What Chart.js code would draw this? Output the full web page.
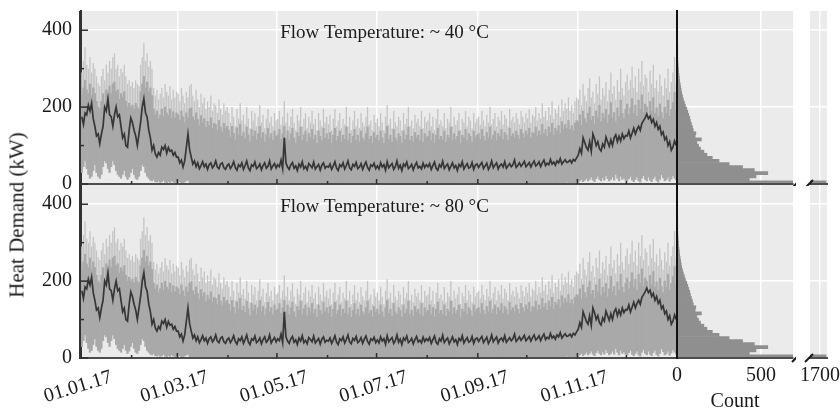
<!DOCTYPE html>
<html>
<head>
<meta charset="utf-8">
<script src="https://cdn.jsdelivr.net/npm/chart.js@4.4.0/dist/chart.umd.min.js"></script>
<style>
  body { margin: 0; background: #fff; }
  #wrap { position: relative; width: 840px; height: 411px; font-family: "Liberation Serif", serif; }
  canvas { position: absolute; }
  .lbl { position: absolute; font-size: 20px; color: #1a1a1a; white-space: nowrap; transform: translate(-50%, -50%); }
</style>
</head>
<body>
<div id="wrap">
  <canvas id="tsTop" width="677" height="198" style="left:0;top:0"></canvas>
  <canvas id="tsBot" width="677" height="226" style="left:0;top:185px"></canvas>
  <canvas id="hTop" width="126" height="186" style="left:670px;top:0"></canvas>
  <canvas id="hBot" width="126" height="226" style="left:670px;top:185px"></canvas>
  <canvas id="bTop" width="50" height="186" style="left:790px;top:0"></canvas>
  <canvas id="bBot" width="50" height="226" style="left:790px;top:185px"></canvas>
  <div class="lbl" style="left:17px;top:215px;font-size:21px;transform:translate(-50%,-50%) rotate(-90deg)">Heat Demand (kW)</div>
  <div class="lbl" style="left:735px;top:400px">Count</div>
</div>
<script>
// axis stuff
const monthStarts = [0, 31, 59, 90, 120, 151, 181, 212, 243, 273, 304, 334, 365];
const dateTicks = [0, 59, 120, 181, 243, 304];
const dateLabels = ['01.01.17', '01.03.17', '01.05.17', '01.07.17', '01.09.17', '01.11.17'];
const demandTicks = [0, 200, 400];
const demandMinor = [100, 300];
const panelTitles = ['Flow Temperature: ~ 40 °C', 'Flow Temperature: ~ 80 °C'];
const countTicks = [0, 500];
const countTicksBreak = [1700];

// histogram of hourly demand, 8 kW bins
const binWidth = 8;
const histCounts = [1735, 430, 470, 540, 460, 390, 310, 250, 210, 178, 160, 140, 128, 118, 145, 108,
  112, 97, 92, 86, 80, 76, 70, 64, 58, 50, 44, 38, 33, 28, 25, 22, 19, 16, 14, 12, 10, 9, 7, 6, 5, 4, 3, 2, 2, 1];

// daily peak (kW), one line per month
const dayMax = [
  290, 320, 356, 310, 300, 330, 290, 315, 300, 280, 262, 255, 280, 300, 270, 310, 290, 320, 300, 330, 340, 300, 310, 280, 300, 290, 310, 280, 260, 270, 255,
  265, 250, 270, 260, 255, 310, 330, 366, 320, 340, 305, 320, 300, 250, 230, 245, 220, 235, 250, 225, 260, 240, 230, 255, 220, 245, 225, 240,
  235, 215, 250, 230, 210, 240, 225, 255, 260, 230, 215, 245, 220, 200, 235, 210, 225, 195, 215, 200, 230, 190, 210, 205, 185, 220, 195, 180, 210, 190, 200,
  185, 160, 200, 175, 150, 195, 170, 210, 165, 180, 155, 200, 170, 145, 190, 165, 185, 150, 175, 205, 160, 180, 145, 170, 195, 160, 175, 150, 185, 165,
  170, 190, 155, 175, 215, 160, 185, 150, 175, 195, 160, 140, 180, 165, 200, 150, 170, 185, 145, 175, 160, 190, 155, 170, 140, 185, 165, 150, 195, 160, 175,
  155, 180, 140, 170, 195, 150, 165, 185, 145, 170, 155, 200, 150, 175, 140, 165, 190, 150, 170, 145, 185, 160, 150, 175, 200, 155, 165, 140, 180, 160,
  170, 150, 185, 160, 140, 175, 205, 155, 170, 145, 190, 160, 150, 175, 165, 140, 185, 155, 170, 200, 150, 165, 145, 180, 160, 170, 150, 190, 145, 175, 160,
  165, 185, 150, 175, 140, 170, 195, 155, 165, 150, 185, 145, 170, 160, 200, 150, 175, 155, 165, 185, 140, 170, 160, 190, 150, 175, 165, 145, 185, 160, 170,
  175, 155, 190, 165, 150, 180, 160, 200, 155, 170, 185, 150, 175, 165, 190, 155, 180, 170, 150, 195, 165, 175, 160, 185, 170, 155, 190, 175, 160, 185,
  170, 195, 160, 180, 175, 200, 165, 185, 170, 210, 175, 190, 165, 200, 180, 215, 170, 195, 185, 205, 175, 220, 190, 210, 195, 225, 190, 205, 185, 215, 225,
  220, 245, 205, 260, 230, 215, 250, 275, 225, 240, 210, 260, 235, 280, 220, 250, 230, 265, 215, 245, 290, 235, 255, 220, 270, 240, 300, 250, 230, 265,
  285, 245, 270, 305, 250, 280, 240, 300, 265, 320, 255, 285, 275, 240, 295, 260, 310, 250, 270, 240, 285, 255, 230, 275, 250, 300, 240, 265, 290, 330, 260
];

// upper edge of the dense part of each day (kW)
const dayHigh = [
  230, 250, 270, 245, 235, 260, 230, 250, 235, 215, 200, 195, 215, 235, 210, 245, 230, 255, 235, 260, 265, 240, 245, 220, 235, 225, 240, 215, 200, 210, 200,
  205, 195, 210, 200, 195, 240, 260, 280, 250, 265, 240, 250, 230, 195, 180, 190, 170, 180, 195, 175, 200, 185, 178, 195, 170, 188, 172, 185,
  180, 165, 190, 175, 160, 185, 172, 195, 198, 175, 165, 185, 168, 152, 178, 160, 170, 148, 163, 152, 172, 145, 158, 155, 140, 165, 148, 136, 158, 144, 150,
  140, 122, 150, 132, 115, 146, 128, 155, 124, 135, 118, 148, 128, 110, 142, 124, 138, 114, 131, 150, 120, 134, 110, 128, 145, 120, 131, 113, 138, 124,
  128, 142, 116, 131, 150, 120, 138, 113, 131, 145, 120, 106, 134, 124, 148, 113, 128, 138, 110, 131, 120, 142, 116, 127, 106, 138, 124, 113, 145, 120, 131,
  116, 134, 106, 127, 145, 113, 124, 138, 109, 127, 116, 148, 113, 131, 106, 124, 142, 113, 127, 109, 138, 120, 113, 131, 148, 116, 124, 106, 134, 120,
  127, 113, 138, 120, 106, 131, 150, 116, 127, 109, 142, 120, 113, 131, 124, 106, 138, 116, 127, 148, 113, 124, 109, 134, 120, 127, 113, 142, 109, 131, 120,
  124, 138, 113, 131, 106, 127, 145, 116, 124, 113, 138, 109, 127, 120, 148, 113, 131, 116, 124, 138, 106, 127, 120, 142, 113, 131, 124, 109, 138, 120, 127,
  131, 116, 142, 124, 113, 134, 120, 148, 116, 127, 138, 113, 131, 124, 142, 116, 134, 127, 113, 145, 124, 131, 120, 138, 127, 116, 142, 131, 120, 138,
  127, 145, 120, 134, 131, 148, 124, 138, 127, 155, 131, 142, 124, 148, 134, 158, 127, 145, 138, 152, 131, 162, 142, 155, 145, 165, 142, 152, 138, 158, 165,
  162, 180, 152, 190, 170, 158, 184, 200, 166, 176, 155, 190, 172, 205, 162, 184, 170, 194, 158, 180, 212, 172, 186, 162, 198, 176, 218, 184, 170, 194,
  208, 180, 198, 222, 184, 205, 176, 218, 194, 232, 186, 208, 200, 176, 215, 190, 225, 184, 198, 176, 208, 186, 170, 200, 184, 218, 176, 194, 212, 238, 190
];

// daily low (kW)
const dayMin = [
  30, 45, 60, 40, 25, 15, 20, 35, 50, 30, 20, 15, 25, 45, 60, 55, 40, 30, 45, 60, 50, 35, 25, 20, 15, 25, 35, 20, 12, 18, 30,
  40, 25, 15, 12, 20, 35, 50, 45, 30, 20, 15, 10, 8, 12, 6, 5, 8, 4, 6, 10, 5, 3, 6, 4, 8, 5, 3, 5,
  4, 6, 2, 3, 5, 8, 10, 4, 2, 3, 1, 4, 2, 0, 3, 2, 1, 4, 0, 2, 3, 1, 0, 2, 4, 1, 0, 3, 2, 0, 1,
  1, 0, 2, 0, 1, 0, 0, 2, 1, 0, 1, 0, 2, 0, 0, 1, 0, 1, 0, 2, 0, 1, 0, 0, 1, 2, 0, 1, 0, 0,
  0, 1, 0, 2, 0, 0, 1, 0, 1, 0, 0, 2, 0, 1, 0, 0, 1, 0, 0, 2, 1, 0, 0, 1, 0, 2, 0, 0, 1, 0, 1,
  0, 0, 1, 0, 2, 0, 1, 0, 0, 1, 0, 0, 2, 0, 1, 0, 0, 1, 0, 0, 1, 0, 2, 0, 0, 1, 0, 0, 1, 0,
  1, 0, 0, 2, 0, 1, 0, 0, 1, 0, 2, 0, 0, 1, 0, 0, 1, 0, 2, 0, 0, 1, 0, 0, 1, 0, 2, 0, 1, 0, 0,
  0, 1, 0, 0, 2, 0, 1, 0, 0, 1, 0, 0, 2, 0, 1, 0, 0, 1, 0, 0, 2, 0, 1, 0, 0, 1, 0, 2, 0, 0, 1,
  0, 2, 0, 1, 0, 0, 1, 0, 2, 0, 0, 1, 0, 1, 0, 2, 0, 0, 1, 0, 0, 2, 0, 1, 0, 0, 1, 0, 2, 0,
  1, 0, 2, 0, 1, 3, 0, 2, 1, 0, 3, 1, 0, 2, 4, 1, 0, 3, 2, 1, 4, 2, 0, 3, 5, 2, 1, 4, 3, 2, 5,
  4, 8, 12, 6, 10, 15, 8, 12, 18, 10, 6, 14, 20, 12, 8, 16, 10, 22, 14, 8, 12, 18, 10, 25, 15, 8, 20, 12, 16, 10,
  8, 14, 20, 10, 6, 12, 18, 8, 5, 15, 22, 12, 8, 18, 10, 6, 14, 20, 9, 5, 12, 24, 16, 8, 11, 18, 7, 13, 22, 15, 10
];

// daily mean (kW)
const dayMean = [
  175, 155, 185, 180, 205, 190, 210, 170, 150, 125, 130, 105, 130, 150, 200, 190, 222, 180, 175, 150, 180, 200, 175, 180, 150, 120, 130, 100, 96, 140, 172,
  160, 140, 125, 100, 130, 160, 200, 222, 185, 174, 140, 120, 88, 100, 78, 70, 82, 75, 96, 90, 100, 80, 95, 85, 88, 75, 82, 70,
  70, 55, 62, 44, 60, 95, 130, 90, 70, 52, 60, 45, 55, 40, 48, 58, 45, 52, 38, 50, 55, 42, 48, 60, 44, 40, 52, 55, 42, 38, 48,
  52, 40, 47, 58, 43, 36, 50, 45, 55, 38, 48, 60, 42, 35, 50, 46, 57, 40, 44, 52, 37, 48, 55, 41, 46, 60, 39, 47, 53, 42,
  50, 45, 62, 40, 120, 55, 44, 38, 50, 56, 41, 47, 35, 52, 44, 58, 40, 46, 37, 53, 48, 42, 57, 39, 45, 51, 36, 49, 55, 41, 46,
  44, 52, 38, 47, 58, 41, 35, 50, 45, 55, 39, 48, 60, 42, 37, 51, 46, 56, 40, 44, 53, 38, 49, 57, 43, 36, 50, 46, 54, 40,
  47, 39, 55, 44, 50, 36, 58, 42, 48, 53, 38, 45, 60, 41, 49, 35, 52, 46, 57, 40, 44, 51, 37, 48, 56, 42, 46, 39, 54, 43, 50,
  45, 53, 38, 48, 57, 41, 36, 50, 44, 59, 40, 47, 52, 37, 46, 55, 42, 48, 35, 51, 45, 58, 39, 47, 53, 41, 44, 56, 38, 49, 52,
  43, 50, 56, 40, 47, 54, 38, 46, 60, 42, 49, 55, 39, 48, 52, 44, 58, 41, 47, 53, 45, 50, 62, 43, 48, 55, 46, 52, 59, 45,
  50, 56, 44, 53, 60, 47, 51, 58, 45, 55, 62, 48, 54, 50, 64, 52, 57, 49, 60, 55, 66, 52, 58, 63, 56, 58, 62, 55, 64, 60, 68,
  75, 92, 80, 120, 108, 95, 88, 110, 85, 130, 118, 100, 110, 92, 86, 104, 96, 122, 110, 98, 115, 100, 120, 128, 110, 124, 112, 130, 118, 126,
  125, 138, 120, 132, 145, 130, 142, 150, 140, 158, 165, 172, 182, 170, 176, 160, 168, 150, 160, 142, 150, 128, 135, 115, 122, 100, 110, 88, 96, 112, 100
];

const FONT = 'Liberation Serif';
const TEXT = '#1a1a1a';

const rangePoints = dayMax.map((v, i) => ({ x: i + 0.5, y: [dayMin[i], v] }));
const densePoints = dayHigh.map((v, i) => ({ x: i + 0.5, y: [dayMin[i], v] }));
const meanPoints = dayMean.map((v, i) => ({ x: i + 0.5, y: v }));
const histPoints = histCounts.map((c, i) => ({ x: c, y: i * binWidth + binWidth / 2 }));

const setTicks = arr => scale => { scale.ticks = arr.map(v => ({ value: v })); };

// fixed axis sizes, and no extra room for the edge tick labels
const fixHeight = h => s => { s.height = h; s.paddingLeft = 0; s.paddingRight = 0; };
const fixWidth = w => s => { s.width = w; s.paddingTop = 0; s.paddingBottom = 0; };

// grey panel behind each plot area
const panelBg = {
  id: 'panelBg',
  beforeDraw(chart) {
    const { ctx, chartArea: a } = chart;
    ctx.save();
    ctx.fillStyle = '#ebebeb';
    ctx.fillRect(a.left, a.top, a.right - a.left, a.bottom - a.top);
    ctx.restore();
  }
};

// axis lines on top of the data, inner ticks, titles, date labels, break marks
const axisMarks = {
  id: 'axisMarks',
  afterDraw(chart, args, opts) {
    const { ctx, chartArea: a, scales } = chart;
    ctx.save();
    ctx.strokeStyle = '#4d4d4d';
    ctx.lineWidth = 2;
    ctx.beginPath();
    ctx.moveTo(a.left - 1, a.bottom);
    ctx.lineTo(a.right + (opts.breakLeft ? 1 : 0), a.bottom);
    ctx.stroke();

    if (opts.series) {
      ctx.strokeStyle = '#2e2e2e';
      ctx.lineWidth = 1.5;
      monthStarts.forEach((d, i) => {
        const x = scales.x.getPixelForValue(d);
        const len = i % 2 === 0 ? 5 : 3;
        ctx.beginPath();
        ctx.moveTo(x, a.bottom);
        ctx.lineTo(x, a.bottom - len);
        ctx.stroke();
      });
      demandTicks.concat(demandMinor).forEach(v => {
        const y = scales.y.getPixelForValue(v);
        const len = demandTicks.includes(v) ? 7 : 3;
        ctx.beginPath();
        ctx.moveTo(a.left, y);
        ctx.lineTo(a.left + len, y);
        ctx.stroke();
      });
      ctx.strokeStyle = '#333';
      ctx.lineWidth = 2;
      ctx.beginPath();
      ctx.moveTo(a.left - 1, a.top);
      ctx.lineTo(a.left - 1, a.bottom + 1);
      ctx.stroke();

      ctx.fillStyle = TEXT;
      ctx.font = '19px "' + FONT + '"';
      ctx.textBaseline = 'middle';
      ctx.textAlign = 'left';
      ctx.fillText(opts.title, scales.x.getPixelForValue(122), scales.y.getPixelForValue(392));
    }

    if (opts.dates) {
      ctx.fillStyle = TEXT;
      ctx.font = '20px "' + FONT + '"';
      ctx.textAlign = 'center';
      ctx.textBaseline = 'middle';
      dateLabels.forEach((t, i) => {
        const x = scales.x.getPixelForValue(dateTicks[i]);
        ctx.save();
        ctx.translate(x - 3, a.bottom + 29);
        ctx.rotate(-17 * Math.PI / 180);
        ctx.fillText(t, 0, 0);
        ctx.restore();
      });
    }

    if (opts.leftLine) {
      ctx.strokeStyle = '#111';
      ctx.lineWidth = 2;
      ctx.beginPath();
      ctx.moveTo(a.left, a.top - 1);
      ctx.lineTo(a.left, a.bottom + 1);
      ctx.stroke();
    }

    ctx.strokeStyle = '#1a1a1a';
    ctx.lineWidth = 2;
    const slash = x => {
      ctx.beginPath();
      ctx.moveTo(x - 4, a.bottom + 4);
      ctx.lineTo(x + 4, a.bottom - 4);
      ctx.stroke();
    };
    if (opts.breakRight) slash(a.right + 3);
    if (opts.breakLeft) slash(a.left - 1);
    ctx.restore();
  }
};

function seriesChart(id, title, axisSpace, padTop, dates) {
  new Chart(document.getElementById(id), {
    type: 'bar',
    data: {
      datasets: [
        { type: 'line', data: meanPoints, borderColor: '#363636', borderWidth: 1.7, pointRadius: 0, order: 0 },
        { data: densePoints, backgroundColor: '#a9a9a9', barPercentage: 1, categoryPercentage: 1, grouped: false, order: 1 },
        { data: rangePoints, backgroundColor: '#c4c4c4', barPercentage: 0.8, categoryPercentage: 1, grouped: false, order: 2 }
      ]
    },
    options: {
      responsive: false,
      animation: false,
      events: [],
      layout: { padding: { top: padTop, right: 0, bottom: 0, left: 0 } },
      plugins: {
        legend: { display: false },
        tooltip: { enabled: false },
        axisMarks: { series: true, title: title, dates: dates }
      },
      scales: {
        x: {
          type: 'linear', min: 0, max: 365, offset: false,
          afterBuildTicks: setTicks(dateTicks),
          ticks: { display: false },
          grid: { color: '#ffffff', lineWidth: 1.5, drawTicks: false, offset: false },
          border: { color: '#4d4d4d', width: 2 },
          afterFit: fixHeight(axisSpace)
        },
        y: {
          type: 'linear', min: 0, max: 450,
          afterBuildTicks: setTicks(demandTicks),
          ticks: { font: { family: FONT, size: 20 }, color: TEXT, padding: 9, callback: v => String(v) },
          grid: { color: '#ffffff', lineWidth: 1.5, drawTicks: false },
          border: { color: '#333', width: 2 },
          afterFit: fixWidth(81)
        }
      }
    },
    plugins: [panelBg, axisMarks]
  });
}

function histChart(id, xmin, xmax, xticks, axisSpace, padTop, padRight, yWidth, labels, marks) {
  new Chart(document.getElementById(id), {
    type: 'bar',
    data: {
      datasets: [{ data: histPoints, backgroundColor: '#8f8f8f', barPercentage: 1, categoryPercentage: 1 }]
    },
    options: {
      indexAxis: 'y',
      responsive: false,
      animation: false,
      events: [],
      layout: { padding: { top: padTop, right: padRight, bottom: 0, left: 0 } },
      plugins: {
        legend: { display: false },
        tooltip: { enabled: false },
        axisMarks: marks
      },
      scales: {
        x: {
          type: 'linear', min: xmin, max: xmax,
          afterBuildTicks: setTicks(xticks),
          ticks: { display: labels, font: { family: FONT, size: 20 }, color: TEXT, padding: 6, maxRotation: 0, autoSkip: false, callback: v => String(v) },
          grid: { color: '#ffffff', lineWidth: 1.5, drawTicks: false },
          border: { color: '#4d4d4d', width: 2 },
          afterFit: fixHeight(axisSpace)
        },
        y: {
          type: 'linear', min: 0, max: 450, offset: false,
          afterBuildTicks: setTicks(demandTicks),
          ticks: { display: false },
          grid: { color: '#ffffff', lineWidth: 1.5, drawTicks: false, offset: false },
          border: { display: false },
          afterFit: fixWidth(yWidth)
        }
      }
    },
    plugins: [panelBg, axisMarks]
  });
}

seriesChart('tsTop', panelTitles[0], 14, 11, false);
seriesChart('tsBot', panelTitles[1], 53, 0, true);
histChart('hTop', 0, 690, countTicks, 2, 11, 3, 7, false, { leftLine: true, breakRight: true });
histChart('hBot', 0, 690, countTicks, 53, 0, 3, 7, true, { leftLine: true, breakRight: true });
histChart('bTop', 1640, 1741, countTicksBreak, 2, 11, 13, 20, false, { breakLeft: true });
histChart('bBot', 1640, 1741, countTicksBreak, 53, 0, 13, 20, true, { breakLeft: true });
</script>
</body>
</html>
